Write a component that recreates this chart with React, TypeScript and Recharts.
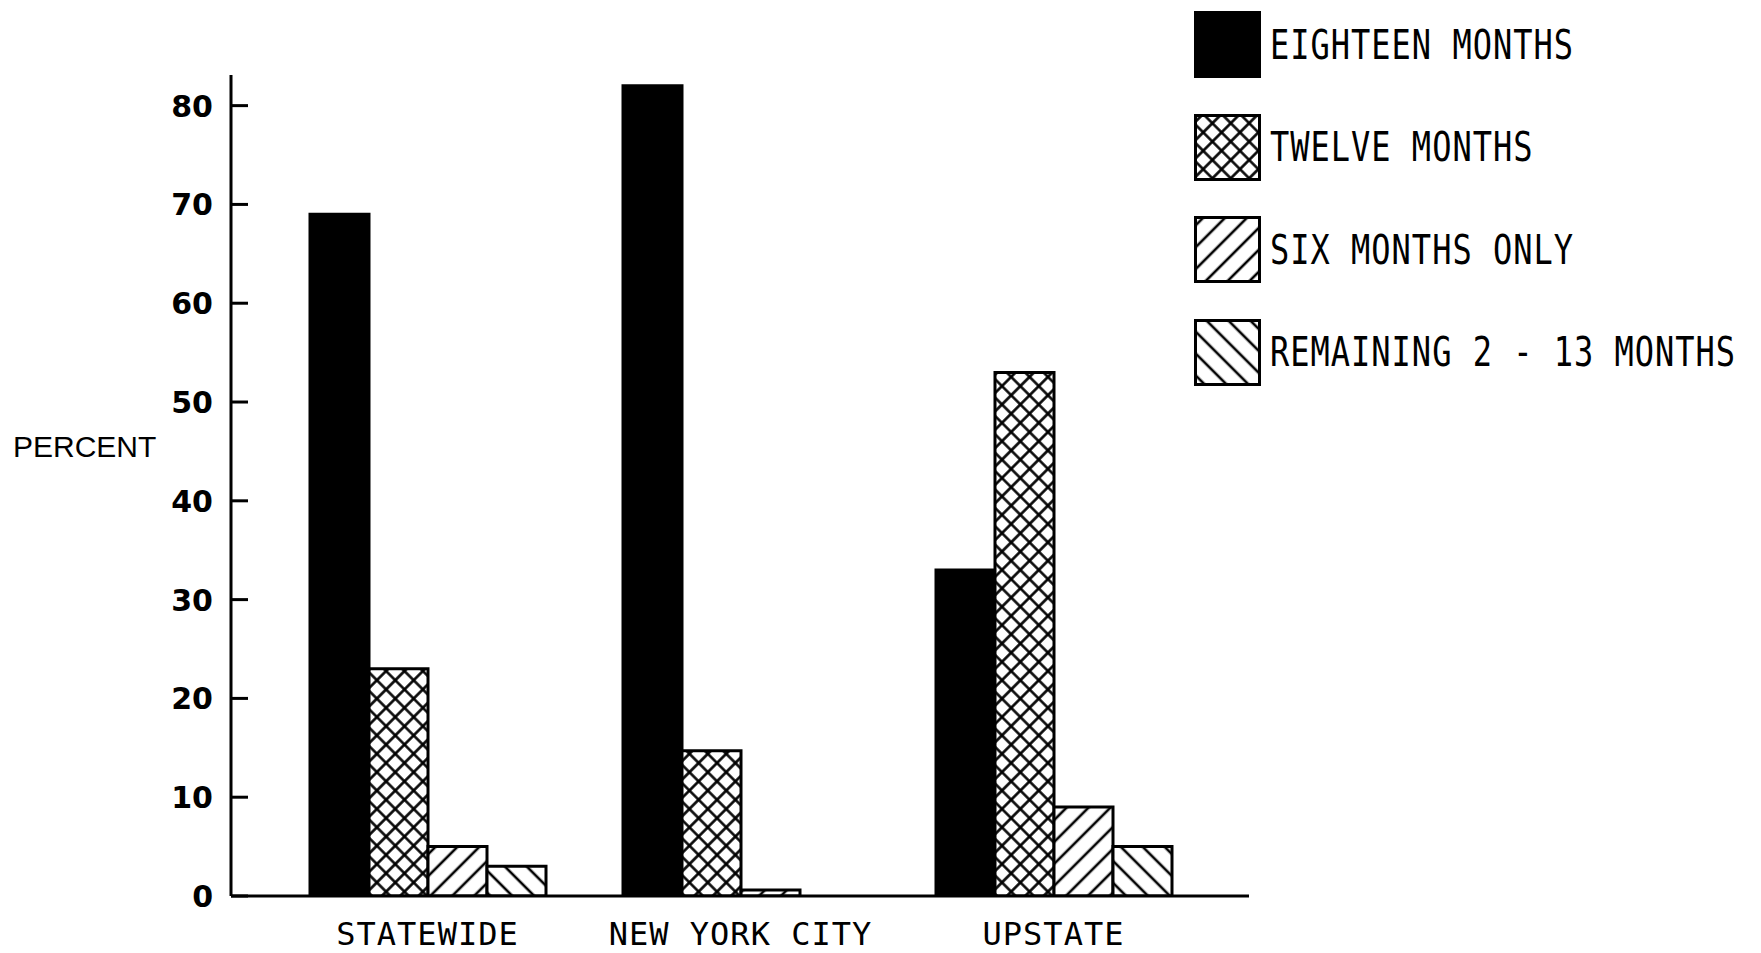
import { BarChart, Bar, XAxis, YAxis, Legend } from 'recharts'

const regions = ['STATEWIDE', 'NEW YORK CITY', 'UPSTATE']
const eighteenMonths = [69, 82, 33]
const twelveMonths = [23, 14.7, 53]
const sixMonthsOnly = [5, 0.6, 9]
const remaining2to13 = [3, 0, 5]
const percentTicks = [0, 10, 20, 30, 40, 50, 60, 70, 80]

const series = [
    { key: 'eighteen', name: 'EIGHTEEN MONTHS', fill: '#000' },
    { key: 'twelve', name: 'TWELVE MONTHS', fill: 'url(#hatchCross)' },
    { key: 'six', name: 'SIX MONTHS ONLY', fill: 'url(#hatchSlash)' },
    { key: 'remaining', name: 'REMAINING 2 - 13 MONTHS', fill: 'url(#hatchBack)' },
]

const data = regions.map((region, i) => ({
    region,
    eighteen: eighteenMonths[i],
    twelve: twelveMonths[i],
    six: sixMonthsOnly[i],
    remaining: remaining2to13[i],
}))

const monoFont = '"DejaVu Sans Mono", "Liberation Mono", monospace'

// ticks point inward from the axis, labels sit to the left
function PercentTick({ x, y, payload }: any) {
    return (
        <g>
            <line x1={x + 18} x2={x + 35} y1={y} y2={y} stroke="#000" strokeWidth={3} />
            <text
                x={x}
                y={y}
                dy={11}
                textAnchor="end"
                fontFamily='"DejaVu Sans", sans-serif'
                fontWeight="bold"
                fontSize={30}
                fill="#000"
            >
                {payload.value}
            </text>
        </g>
    )
}

function RegionTick({ x, y, payload }: any) {
    return (
        <text
            x={x}
            y={y}
            dy={23}
            textAnchor="middle"
            fontFamily={monoFont}
            fontSize={32}
            style={{ letterSpacing: 1 }}
            fill="#000"
        >
            {payload.value}
        </text>
    )
}

function PercentLabel() {
    return (
        <text
            x={13}
            y={457}
            fontFamily='"Liberation Sans", Arial, sans-serif'
            fontSize={30}
            fill="#000"
        >
            PERCENT
        </text>
    )
}

function LegendBox() {
    return (
        <div style={{ display: 'flex', flexDirection: 'column' }}>
            {series.map((s) => (
                <div
                    key={s.key}
                    style={{ display: 'flex', alignItems: 'center', height: 67, marginBottom: 35.5 }}
                >
                    <svg width={67} height={67} style={{ display: 'block' }}>
                        <rect x={1.5} y={1.5} width={64} height={64} fill={s.fill} stroke="#000" strokeWidth={3} />
                    </svg>
                    <span
                        style={{
                            marginLeft: 9,
                            fontFamily: monoFont,
                            fontSize: 32,
                            letterSpacing: 1,
                            color: '#000',
                            display: 'inline-block',
                            transform: 'scaleY(1.25)',
                            whiteSpace: 'nowrap',
                        }}
                    >
                        {s.name}
                    </span>
                </div>
            ))}
        </div>
    )
}

export default function App() {
    return (
        <div style={{ position: 'absolute', left: 0, top: 0, width: 1761, height: 953, background: '#fff' }}>
            <BarChart
                width={1761}
                height={953}
                data={data}
                margin={{ top: 75, right: 512, left: 131, bottom: 0 }}
                barGap={0}
                barSize={59}
            >
                <defs>
                    <pattern id="hatchCross" width={13} height={13} patternUnits="userSpaceOnUse" patternTransform="rotate(45)">
                        <rect width={13} height={13} fill="#fff" />
                        <path d="M6.5,0 V13 M0,6.5 H13" stroke="#000" strokeWidth={2.6} />
                    </pattern>
                    <pattern id="hatchSlash" width={15.5} height={15.5} patternUnits="userSpaceOnUse" patternTransform="rotate(45)">
                        <rect width={15.5} height={15.5} fill="#fff" />
                        <path d="M7.75,0 V15.5" stroke="#000" strokeWidth={2.6} />
                    </pattern>
                    <pattern id="hatchBack" width={15.5} height={15.5} patternUnits="userSpaceOnUse" patternTransform="rotate(-45)">
                        <rect width={15.5} height={15.5} fill="#fff" />
                        <path d="M7.75,0 V15.5" stroke="#000" strokeWidth={2.6} />
                    </pattern>
                </defs>
                <XAxis
                    dataKey="region"
                    height={57}
                    axisLine={{ stroke: '#000', strokeWidth: 3 }}
                    tickLine={false}
                    tickSize={0}
                    tickMargin={26}
                    padding={{ left: 40, right: 39 }}
                    tick={<RegionTick />}
                />
                <YAxis
                    width={100}
                    domain={[0, 83.1]}
                    ticks={percentTicks}
                    allowDataOverflow
                    axisLine={{ stroke: '#000', strokeWidth: 3 }}
                    tickLine={false}
                    tickSize={0}
                    tickMargin={18}
                    tick={<PercentTick />}
                    label={<PercentLabel />}
                />
                <Legend
                    layout="vertical"
                    align="center"
                    verticalAlign="middle"
                    content={<LegendBox />}
                    wrapperStyle={{ left: 1194, top: 11, width: 560 }}
                />
                {series.map((s) => (
                    <Bar
                        key={s.key}
                        dataKey={s.key}
                        name={s.name}
                        fill={s.fill}
                        stroke="#000"
                        strokeWidth={3}
                        isAnimationActive={false}
                    />
                ))}
            </BarChart>
        </div>
    )
}
